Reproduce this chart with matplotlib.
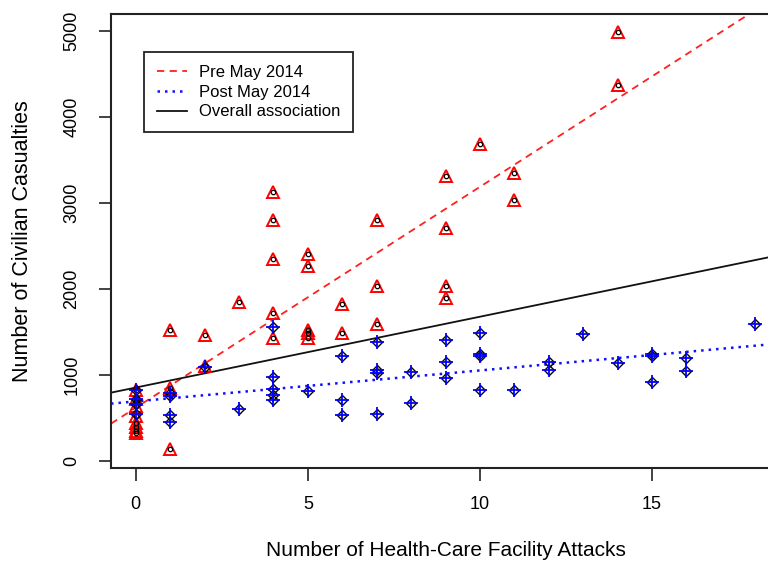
import numpy as np
import matplotlib
matplotlib.use("Agg")
import matplotlib.pyplot as plt

plt.rcParams['font.family'] = ['Liberation Sans', 'DejaVu Sans']

# pre May 2014 (red triangles)
pre_x = [0, 0, 0, 0, 0, 0, 0, 0,
         1, 1, 1,
         2, 2,
         3,
         4, 4, 4, 4, 4,
         5, 5, 5, 5, 5,
         6, 6,
         7, 7, 7,
         9, 9, 9, 9,
         10,
         11, 11,
         14, 14]
pre_y = [820, 720, 640, 520, 440, 390, 350, 320,
         1520, 850, 130,
         1460, 1100,
         1840,
         3120, 2800, 2350, 1720, 1430,
         2405, 2265, 1520, 1480, 1430,
         1825, 1490,
         2800, 2035, 1590,
         3310, 2710, 2035, 1895,
         3685,
         3345, 3035,
         4990, 4370]

# post May 2014 (blue diamonds)
post_x = [0, 0, 0, 0,
          1, 1, 1, 1,
          2,
          3,
          4, 4, 4, 4, 4,
          5,
          6, 6, 6,
          7, 7, 7, 7,
          8, 8,
          9, 9, 9,
          10, 10, 10, 10,
          11,
          12, 12,
          13,
          14,
          15, 15, 15,
          16, 16,
          18]
post_y = [820, 720, 660, 540,
          790, 750, 530, 450,
          1090,
          600,
          1550, 975, 835, 760, 710,
          805,
          1220, 700, 535,
          1385, 1050, 1015, 545,
          1035, 665,
          1405, 1150, 960,
          1490, 1240, 1220, 820,
          820,
          1150, 1055,
          1475,
          1130,
          1240, 1220, 910,
          1195, 1040,
          1595]

# fitted lines: intercept, slope
fit_pre = (615, 257)
fit_post = (689, 36)
fit_all = (850, 82.4)

fig = plt.figure(figsize=(7.68, 5.73), dpi=100)
ax = fig.add_axes([111/768, 1 - 468/573, (780 - 111)/768, (468 - 14)/573])

ax.set_xlim(-0.72, 18.72)
ax.set_ylim(-86, 5196)

ax.axline((0, fit_pre[0]), slope=fit_pre[1], color='#ff2020', lw=1.3,
          linestyle=(0, (4, 3)), label='Pre May 2014')
ax.axline((0, fit_post[0]), slope=fit_post[1], color='#1010ff', lw=1.8,
          linestyle=(0, (1, 2)), label='Post May 2014')
ax.axline((0, fit_all[0]), slope=fit_all[1], color='#111111', lw=1.3,
          label='Overall association')

ax.plot(pre_x, pre_y, linestyle='none', marker='^', ms=8.5, mfc='none',
        mec='#ff0000', mew=1.4)
ax.plot(pre_x, pre_y, linestyle='none', marker='o', ms=3.2, mfc='none',
        mec='black', mew=0.9)
ax.plot(post_x, post_y, linestyle='none', marker='D', ms=5.6, mfc='none',
        mec='black', mew=1.0)
ax.plot(post_x, post_y, linestyle='none', marker='+', ms=10.5, mec='#0000ff',
        mew=1.3)

ax.set_xticks([0, 5, 10, 15])
ax.set_yticks([0, 1000, 2000, 3000, 4000, 5000])
ax.tick_params(direction='out', length=9, width=1.2, labelsize=13,
               color='#222222')
ax.tick_params(axis='x', pad=11)
ax.tick_params(axis='y', pad=13)
for lab in ax.get_yticklabels():
    lab.set_rotation(90)
    lab.set_va('center')

for s in ['left', 'top', 'bottom', 'right']:
    ax.spines[s].set_color('#222222')
    ax.spines[s].set_linewidth(1.5)

ax.set_xlabel('Number of Health-Care Facility Attacks', fontsize=15,
              labelpad=20)
ax.set_ylabel('Number of Civilian Casualties', fontsize=15.5, labelpad=22)

leg = ax.legend(loc='upper left', bbox_to_anchor=(144/768, 1 - 52/573),
                bbox_transform=fig.transFigure, fontsize=12,
                frameon=True, fancybox=False, edgecolor='#222222',
                framealpha=1, handlelength=1.85, handletextpad=0.72,
                borderpad=0.75, labelspacing=0.3, borderaxespad=0)
leg.get_frame().set_linewidth(1.3)

fig.savefig('out.png', dpi=100)
